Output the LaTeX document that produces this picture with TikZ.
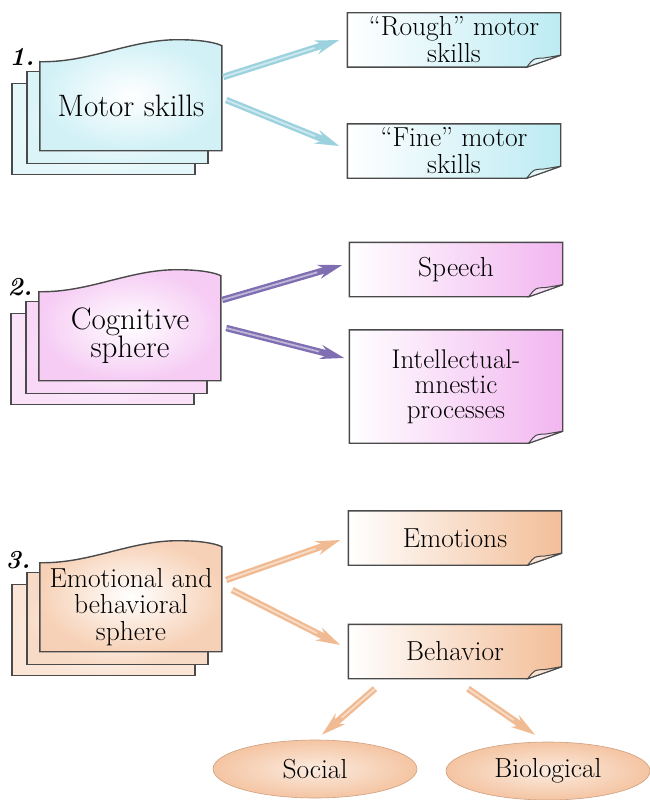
\documentclass[tikz,border=0pt]{standalone}
\usepackage{fontspec}
\usetikzlibrary{arrows.meta,calc,shapes.geometric,backgrounds}
\definecolor{cyanA}{HTML}{BDEBF3}
\definecolor{pinkA}{HTML}{F2B6F0}
\definecolor{orangeA}{HTML}{F3BE98}
\definecolor{edgecol}{HTML}{4A4A4A}
\definecolor{arrB}{HTML}{9CD2DE}
\definecolor{arrP}{HTML}{7F6FB2}
\definecolor{arrO}{HTML}{F0BA92}
\tikzset{
 cardtext/.style={minimum width=182pt, minimum height=89pt, inner sep=0pt, align=center, font=\fontsize{31}{28}\selectfont},
 notebox/.style={minimum width=213pt, minimum height=54pt, inner sep=0pt, align=center, font=\fontsize{27.5}{27}\selectfont},
 numlabel/.style={font=\fontsize{26}{26}\selectfont\bfseries\itshape, inner sep=0pt},
 fat/.style={line width=6.5pt, draw=#1, -{Stealth[length=24pt,width=14pt,inset=8pt]},
   postaction={draw=white, draw opacity=0.5, line width=1.8pt, arrows=-, shorten >=26pt}},
 ovalnode/.style={ellipse, minimum width=204pt, minimum height=58pt, inner sep=0pt,
   inner color=#1!30, outer color=#1!90, draw=#1!85!black, line width=0.6pt, font=\fontsize{27.5}{27}\selectfont},
}
\newcommand\cardstack[2]{%
 \begin{scope}[on background layer]
  \coordinate (o) at (#1.south west);
  \shade[draw=edgecol, line width=1.4pt, inner color=white, outer color=#2!40] ($(o)+(-28,24)$) rectangle ($(o)+(155,-67)$);
  \shade[draw=edgecol, line width=1.4pt, inner color=white, outer color=#2!55] ($(o)+(-13,13)$) rectangle ($(o)+(168,-79)$);
  \shade[draw=edgecol, line width=1.4pt, inner color=white, outer color=#2!70] (o) -- ($(o)+(0,-89)$)
    .. controls ($(o)+(50,-88)$) and ($(o)+(90,-111)$) .. ($(o)+(138,-111)$)
    .. controls ($(o)+(162,-111)$) and ($(o)+(176,-108)$) .. ($(o)+(182,-105)$) -- ($(o)+(182,0)$) -- cycle;
 \end{scope}}
\newcommand\foldbox[2]{%
 \begin{scope}[on background layer]
  \coordinate (c) at (#1.south east);
  \shade[draw=edgecol, line width=1.4pt, left color=white, right color=#2] (#1.north west) -- (#1.north east)
    -- ($(c)+(0,-12)$) .. controls ($(c)+(-14,-7)$) .. ($(c)+(-34,0)$) -- (#1.south west) -- cycle;
  \filldraw[draw=edgecol, line width=1pt, fill=#2!45!white] ($(c)+(-34,0)$) .. controls ($(c)+(-27,-9)$) .. ($(c)+(-18,-9)$)
    -- ($(c)+(0,-12)$) .. controls ($(c)+(-14,-7)$) .. cycle;
 \end{scope}}
\begin{document}
\begin{tikzpicture}[x=1pt,y=-1pt]
\useasboundingbox (0,0) rectangle (650,800);
% left stacks
\node[cardtext] (motor) at (131,106) {Motor skills};
\cardstack{motor}{cyanA}
\node[cardtext] (cog) at (130,336) {Cognitive\\sphere};
\cardstack{cog}{pinkA}
\node[cardtext, font=\fontsize{27.5}{26.5}\selectfont] (emo) at (131,607) {Emotional and\\behavioral\\sphere};
\cardstack{emo}{orangeA}
% numbers
\node[numlabel] (n1) at (22,57) {1.};
\node[numlabel] (n2) at (20,287) {2.};
\node[numlabel] (n3) at (18,560) {3.};
% note boxes
\node[notebox] (rough) at (454,40) {“Rough” motor\\skills};
\foldbox{rough}{cyanA}
\node[notebox] (fine) at (454,151) {“Fine” motor\\skills};
\foldbox{fine}{cyanA}
\node[notebox] (speech) at (456,269.5) {Speech};
\foldbox{speech}{pinkA}
\node[notebox, minimum height=113pt, font=\fontsize{27}{25}\selectfont] (intel) at (456,386.5) {Intellectual-\\mnestic\\processes};
\foldbox{intel}{pinkA}
\node[notebox] (emotions) at (455,538) {Emotions};
\foldbox{emotions}{orangeA}
\node[notebox] (behavior) at (455,651.5) {Behavior};
\foldbox{behavior}{orangeA}
% ellipses
\node[ovalnode=orangeA] (social) at (315,769) {Social};
\node[ovalnode=orangeA] (bio) at (548,771) {Biological};
% arrows
\draw[fat=arrB] ($(motor.east)+(1,-29)$) -- ($(rough.west)+(-8,0)$);
\draw[fat=arrB] ($(motor.east)+(4,-6)$) -- ($(fine.west)+(-8,-5)$);
\draw[fat=arrP] ($(cog.east)+(1,-36)$) -- ($(speech.west)+(-7,-4.5)$);
\draw[fat=arrP] ($(cog.east)+(5,-8)$) -- ($(intel.west)+(-5,-28.5)$);
\draw[fat=arrO] ($(emo.east)+(4,-27)$) -- ($(emotions.west)+(-8,2)$);
\draw[fat=arrO] ($(emo.east)+(10,-17)$) -- ($(behavior.west)+(-8,-6.5)$);
\draw[fat=arrO] ($(behavior.south)+(-80,10)$) -- ($(social.north)+(7,-5)$);
\draw[fat=arrO] ($(behavior.south)+(13,10)$) -- ($(bio.north)+(-13,-7)$);
\end{tikzpicture}
\end{document}
